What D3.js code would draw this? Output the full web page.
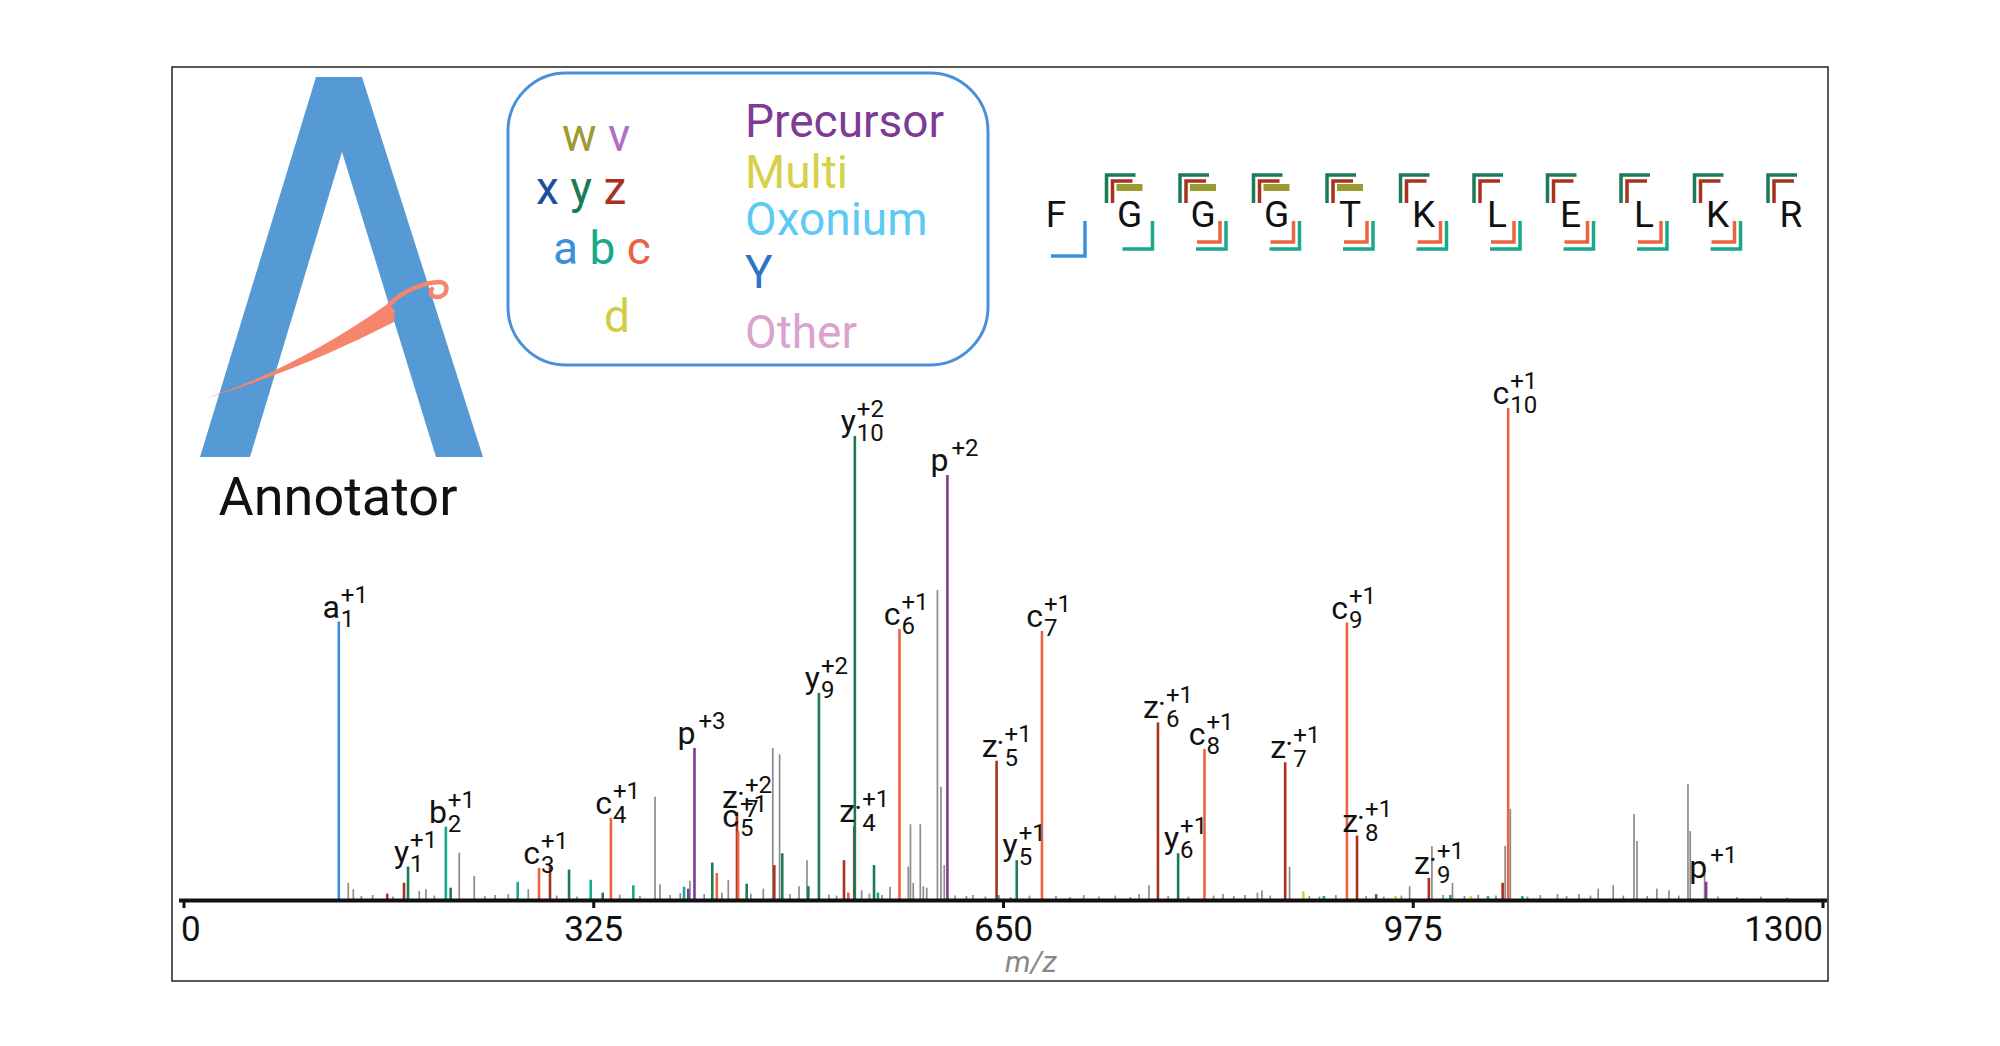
<!DOCTYPE html>
<html>
<head>
<meta charset="utf-8">
<script src="https://cdn.jsdelivr.net/npm/d3@7"></script>
<style>
  body { margin: 0; background: #fff; }
  text { font-family: Roboto, "Liberation Sans", sans-serif; }
</style>
</head>
<body>
<svg id="chart" width="2000" height="1046"></svg>
<script>
// axis
var tickValues = [0, 325, 650, 975, 1300];

// annotated peaks (drawing order matters: hidden ones first)
var annMz     = [123.2, 178.1, 208.1, 282.0, 339.0, 405.3, 439.0, 439.9, 504.0, 532.0, 532.5, 567.9, 605.9, 644.9, 660.9, 680.9, 772.9, 788.9, 809.8, 873.8, 922.8, 930.8, 987.8, 1050.7, 1207.7];
var annInt    = [56.6, 6.8, 14.9, 6.5, 16.7, 30.9, 17.9, 14.0, 42.1, 15.0, 94.3, 55.1, 86.4, 28.3, 8.1, 54.7, 36.1, 9.5, 30.7, 28.0, 56.4, 13.1, 4.5, 100, 3.7];
var annIon    = ['a', 'y', 'b', 'c', 'c', 'p', 'z', 'c', 'y', 'z', 'y', 'c', 'p', 'z', 'y', 'c', 'z', 'y', 'c', 'z', 'c', 'z', 'z', 'c', 'p'];
var annNum    = ['1', '1', '2', '3', '4', '', '7', '5', '9', '4', '10', '6', '', '5', '5', '7', '6', '6', '8', '7', '9', '8', '9', '10', ''];
var annCharge = ['+1', '+1', '+1', '+1', '+1', '+3', '+2', '+1', '+2', '+1', '+2', '+1', '+2', '+1', '+1', '+1', '+1', '+1', '+1', '+1', '+1', '+1', '+1', '+1', '+1'];

// smaller matched peaks without labels
var minorMz  = [161.6, 174.9, 211.9, 265.1, 290.7, 305.8, 323.0, 332.5, 356.8, 397.0, 400.4, 419.4, 423.0, 446.7, 468.6, 474.9, 495.6, 523.9, 527.3, 547.7, 550.8, 646.3, 888.2, 904.5, 946.0, 961.3, 1004.8, 1021.1, 1034.7, 1046.3, 1061.9];
var minorInt = [1.3, 3.5, 2.5, 3.7, 7.1, 6.2, 4.1, 1.5, 3.0, 2.7, 2.3, 7.6, 5.5, 3.3, 7.1, 9.5, 2.8, 8.1, 1.5, 7.1, 1.5, 1.0, 1.8, 0.8, 1.2, 0.8, 1.0, 0.8, 0.8, 3.5, 0.8];
var minorIon = ['z', 'z', 'y', 'b', 'z', 'y', 'b', 'y', 'b', 'b', 'p', 'y', 'c', 'y', 'z', 'y', 'y', 'z', 'c', 'y', 'b', 'b', 'multi', 'b', 'y', 'multi', 'b', 'multi', 'b', 'z', 'b'];

// unmatched peaks
var grayMz  = [130.7, 134.7, 141, 150, 166, 187.0, 192.3, 199, 218.7, 230.6, 239, 247.1, 257.6, 273.5, 296, 312, 346, 362, 374.0, 377.9, 386, 394, 401.7, 413, 427, 432.1, 450, 459.9, 467.4, 472.8, 481, 488.2, 494.5, 512, 518, 537.9, 544, 554, 560.4, 574.9, 576.6, 578.8, 584.4, 586.8, 589.5, 598.0, 600.8, 603.4, 612, 621, 626.2, 636, 656, 671, 692, 703, 714, 726, 739, 751, 758, 765.8, 781, 797, 817, 824.5, 833, 842, 851.8, 855.4, 862, 877.3, 893, 901, 914, 938, 952, 966, 972.5, 990.2, 999, 1006.5, 1016, 1027, 1041, 1048.3, 1052.4, 1066, 1076.2, 1089.8, 1097, 1106.8, 1116, 1122.1, 1134.0, 1142, 1150.5, 1152.9, 1161, 1168.6, 1178.2, 1186, 1193.3, 1195.1, 1206.5, 1217, 1232, 1251, 1272];
var grayInt = [3.5, 2.2, 0.8, 1.0, 0.7, 1.8, 2.2, 0.9, 9.6, 4.9, 0.8, 1.0, 1.2, 2.2, 0.9, 0.7, 1.1, 0.8, 21.0, 3.2, 1.0, 1.4, 3.9, 1.2, 1.5, 4.1, 1.3, 2.3, 30.9, 29.6, 1.2, 2.8, 8.1, 1.1, 0.9, 2.0, 1.3, 1.0, 2.7, 6.8, 15.4, 3.5, 15.4, 2.8, 2.5, 63.0, 23.0, 7.1, 0.9, 0.8, 1.0, 0.7, 0.6, 0.9, 0.8, 0.6, 1.0, 0.7, 0.9, 0.6, 1.2, 3.0, 0.8, 0.7, 0.9, 1.2, 0.8, 1.0, 1.5, 2.0, 0.9, 6.8, 0.8, 0.7, 1.0, 0.8, 0.7, 0.9, 2.8, 11.0, 1.0, 3.5, 0.8, 1.1, 0.9, 11.0, 18.5, 0.7, 1.0, 1.2, 0.8, 1.2, 0.9, 2.3, 3.0, 0.9, 17.5, 12.0, 0.8, 2.3, 2.0, 0.9, 23.6, 14.0, 5.4, 0.7, 0.6, 0.7, 0.5];

// peptide sequence and fragment coverage per cleavage site (after residue i)
var sequence = ['F', 'G', 'G', 'G', 'T', 'K', 'L', 'E', 'L', 'K', 'R'];
var nTermCoverage = [['a'], ['b'], ['c', 'b'], ['c', 'b'], ['c', 'b'], ['c', 'b'], ['c', 'b'], ['c', 'b'], ['c', 'b'], ['c', 'b']];
var cTermCoverage = [['y', 'z', 'w'], ['y', 'z', 'w'], ['y', 'z', 'w'], ['y', 'z', 'w'], ['y', 'z'], ['y', 'z'], ['y', 'z'], ['y', 'z'], ['y', 'z'], ['y', 'z']];

// legend
var legendIonRows = [['w', 'v'], ['x', 'y', 'z'], ['a', 'b', 'c'], ['d']];
var legendCategories = ['Precursor', 'Multi', 'Oxonium', 'Y', 'Other'];
var legendCategoryKeys = ['p', 'multi', 'oxonium', 'Y', 'other'];

var colors = {
    a: '#3d8fdc', b: '#18a88a', c: '#e9643f',
    x: '#1d4f9f', y: '#1c7b54', z: '#a6321f',
    w: '#9c9a32', v: '#b06ec4', d: '#d3cd44',
    p: '#7e3a96', multi: '#d6d04a', oxonium: '#5ccaf2', Y: '#2f72c6', other: '#dba2d0',
    none: '#8c8c8c'
};

var svg = d3.select('#chart');

// outer frame
svg.append('rect')
    .attr('x', 172).attr('y', 67).attr('width', 1656).attr('height', 914)
    .attr('fill', 'none').attr('stroke', '#222').attr('stroke-width', 1.5);

/* scales */
var x = d3.scaleLinear().domain([0, 1300]).range([183.5, 1822.5]);
var y = d3.scaleLinear().domain([0, 100]).range([900, 408]);

/* logo */
var logo = svg.append('g');
logo.append('path')
    .attr('d', 'M200,457 L316,77 L362,77 L483,457 L436,457 L342,152 L250,457 Z')
    .attr('fill', '#5599d5');
logo.append('path')
    .attr('d', 'M206.7,398.3 Q300,366 389,303 L395,311 L394,322 Q305,368 206.7,398.3 Z')
    .attr('fill', '#f5856b');
logo.append('path')
    .attr('d', 'M389,305 C402,291 425,282 440,282 C450,283 448,297 437,297 C431,297 429,292 432,289')
    .attr('fill', 'none').attr('stroke', '#f5856b').attr('stroke-width', 4.5).attr('stroke-linecap', 'round');
logo.append('text')
    .attr('x', 338).attr('y', 515).attr('text-anchor', 'middle')
    .style('font-size', '54px').attr('fill', '#111')
    .text('Annotator');

/* legend */
var legend = svg.append('g');
legend.append('rect')
    .attr('x', 508).attr('y', 73).attr('width', 480).attr('height', 292).attr('rx', 58)
    .attr('fill', 'none').attr('stroke', '#4a90d9').attr('stroke-width', 3);

var rowStartX = [562, 536, 553, 604];
var rowBaseY = [151, 204, 264, 332];
legendIonRows.forEach(function (row, i) {
    var t = legend.append('text')
        .attr('x', rowStartX[i]).attr('y', rowBaseY[i])
        .style('font-size', '46px')
        .attr('xml:space', 'preserve');
    row.forEach(function (ion, j) {
        t.append('tspan').attr('fill', colors[ion]).text((j > 0 ? ' ' : '') + ion);
    });
});
var catBaseY = [137, 188, 235, 288, 348];
legendCategories.forEach(function (name, i) {
    legend.append('text')
        .attr('x', 745).attr('y', catBaseY[i])
        .style('font-size', '46px')
        .attr('fill', colors[legendCategoryKeys[i]])
        .text(name);
});

/* sequence with fragment brackets */
var seqG = svg.append('g');
var seqX = d3.scaleLinear().domain([0, sequence.length - 1]).range([1056, 1791]);
var seqBase = 227;

sequence.forEach(function (res, i) {
    seqG.append('text')
        .attr('x', seqX(i)).attr('y', seqBase).attr('text-anchor', 'middle')
        .style('font-size', '37px').attr('fill', '#111')
        .text(res);
});

var bottomShape = { a: [29, 256, -5], b: [23, 249, -7], c: [17, 242, -6] };
nTermCoverage.forEach(function (ions, i) {
    var cx = seqX(i);
    ions.forEach(function (ion) {
        var s = bottomShape[ion];
        seqG.append('path')
            .attr('d', 'M' + (cx + s[0]) + ',221 V' + s[1] + ' H' + (cx + s[2]))
            .attr('fill', 'none').attr('stroke', colors[ion]).attr('stroke-width', 3.5);
    });
});

var topShape = { y: [-23, 175, 6], z: [-17, 181, 3] };
cTermCoverage.forEach(function (ions, i) {
    var cx = seqX(i + 1);
    ions.forEach(function (ion) {
        if (ion === 'w') {
            seqG.append('rect')
                .attr('x', cx - 13).attr('y', 184).attr('width', 26).attr('height', 7)
                .attr('fill', colors.w);
            return;
        }
        var s = topShape[ion];
        seqG.append('path')
            .attr('d', 'M' + (cx + s[0]) + ',203 V' + s[1] + ' H' + (cx + s[2]))
            .attr('fill', 'none').attr('stroke', colors[ion]).attr('stroke-width', 3.5);
    });
});

/* peaks */
var peaksG = svg.append('g');

peaksG.selectAll('line.gray')
    .data(grayMz.map(function (m, i) { return { mz: m, it: grayInt[i] }; }))
    .enter().append('line')
    .attr('x1', function (d) { return x(d.mz); }).attr('x2', function (d) { return x(d.mz); })
    .attr('y1', y(0)).attr('y2', function (d) { return y(d.it); })
    .attr('stroke', colors.none).attr('stroke-width', 1.7);

peaksG.selectAll('line.minor')
    .data(minorMz.map(function (m, i) { return { mz: m, it: minorInt[i], ion: minorIon[i] }; }))
    .enter().append('line')
    .attr('x1', function (d) { return x(d.mz); }).attr('x2', function (d) { return x(d.mz); })
    .attr('y1', y(0)).attr('y2', function (d) { return y(d.it); })
    .attr('stroke', function (d) { return colors[d.ion]; }).attr('stroke-width', 2.6);

var annData = annMz.map(function (m, i) {
    return { mz: m, it: annInt[i], ion: annIon[i], num: annNum[i], charge: annCharge[i] };
});

peaksG.selectAll('line.ann')
    .data(annData)
    .enter().append('line')
    .attr('x1', function (d) { return x(d.mz); }).attr('x2', function (d) { return x(d.mz); })
    .attr('y1', y(0)).attr('y2', function (d) { return y(d.it); })
    .attr('stroke', function (d) { return colors[d.ion]; }).attr('stroke-width', 2.6);

/* labels: ion letter, subscript number, superscript charge */
var labelsG = svg.append('g').attr('fill', '#111');
annData.forEach(function (d) {
    var px = x(d.mz);
    var base = y(d.it) - 4;
    labelsG.append('text')
        .attr('x', px + 1).attr('y', base).attr('text-anchor', 'end')
        .style('font-size', '32px')
        .text(d.ion);
    var off = 2;
    if (d.ion === 'z') {
        labelsG.append('text')
            .attr('x', px).attr('y', base - 4)
            .style('font-size', '30px')
            .text('\u00b7');
        off = 8;
    }
    if (d.num) {
        labelsG.append('text')
            .attr('x', px + off).attr('y', base + 9)
            .style('font-size', '24px')
            .text(d.num);
    }
    labelsG.append('text')
        .attr('x', px + off + (d.ion === 'p' ? 2 : 0)).attr('y', base - 15)
        .style('font-size', '24px')
        .text(d.charge);
});

/* x axis */
svg.append('line')
    .attr('x1', 179).attr('x2', 1827).attr('y1', 900.5).attr('y2', 900.5)
    .attr('stroke', '#111').attr('stroke-width', 4);

var axisG = svg.append('g')
    .attr('transform', 'translate(0,902)')
    .call(d3.axisBottom(x).tickValues(tickValues).tickFormat(d3.format('d'))
        .tickSize(6).tickSizeOuter(0).tickPadding(8));
axisG.select('.domain').remove();
axisG.selectAll('.tick line').attr('stroke', '#111').attr('stroke-width', 3);
axisG.selectAll('.tick text')
    .style('font-size', '35px').style('font-family', 'Roboto, "Liberation Sans", sans-serif')
    .attr('fill', '#111')
    .attr('text-anchor', function (d, i) { return i === 0 ? 'start' : (i === tickValues.length - 1 ? 'end' : 'middle'); })
    .attr('dx', function (d, i) { return i === 0 ? -3 : 0; });

svg.append('text')
    .attr('x', 1031).attr('y', 972).attr('text-anchor', 'middle')
    .style('font-size', '30px').style('font-style', 'italic')
    .attr('fill', '#888')
    .text('m/z');
</script>
</body>
</html>
